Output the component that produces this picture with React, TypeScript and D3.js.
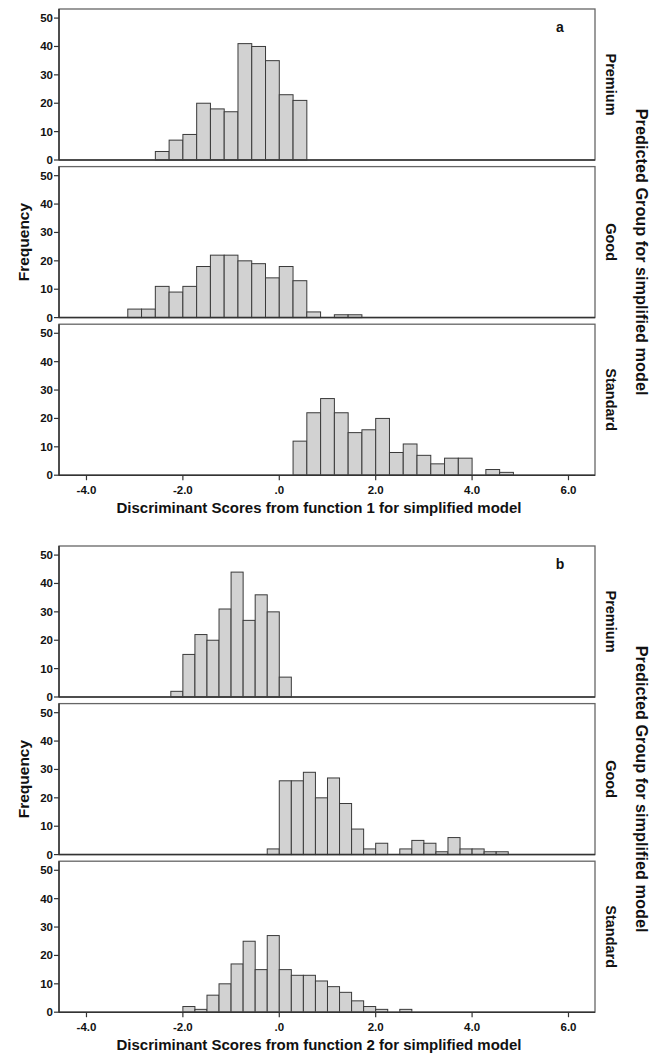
import React from "react";
import * as d3 from "d3";

const groups = ["Premium", "Good", "Standard"];
const yTicks = [0, 10, 20, 30, 40, 50];
const xTicks = [-4, -2, 0, 2, 4, 6];
const xTickLabels = ["-4.0", "-2.0", ".0", "2.0", "4.0", "6.0"];

// function 1 scores, bins of ~0.286
const binWidthA = 0.2857;
const premiumA = [3, 7, 9, 20, 18, 17, 41, 40, 35, 23, 21];
const goodA = [3, 3, 11, 9, 11, 18, 22, 22, 20, 19, 14, 18, 13, 2, 0, 1, 1];
const standardA = [12, 22, 27, 22, 15, 16, 20, 8, 11, 7, 4, 6, 6, 0, 2, 1];
const startsA = [-2.571, -3.143, 0.286];

// function 2 scores, bins of 0.25
const binWidthB = 0.25;
const premiumB = [2, 15, 22, 20, 31, 44, 27, 36, 30, 7];
const goodB = [2, 26, 26, 29, 20, 27, 18, 9, 2, 4, 0, 2, 5, 4, 1, 6, 2, 2, 1, 1];
const standardB = [2, 1, 6, 10, 17, 25, 15, 27, 15, 13, 13, 11, 9, 7, 4, 2, 1, 0, 1];
const startsB = [-2.25, -0.25, -2.0];

const W = 659;
const H = 1059;
const left = 59;
const right = 595;
const subH = 151;
const step = 157.6;
const font = "'Liberation Sans', Arial, sans-serif";
const ink = "#111";

const x = d3.scaleLinear().domain([-4.57, 6.55]).range([left, right]);

type Figure = {
  top: number;
  label: string;
  title: string;
  width: number;
  starts: number[];
  series: number[][];
};

const figures: Figure[] = [
  {
    top: 9,
    label: "a",
    title: "Discriminant Scores from function 1 for simplified model",
    width: binWidthA,
    starts: startsA,
    series: [premiumA, goodA, standardA],
  },
  {
    top: 546,
    label: "b",
    title: "Discriminant Scores from function 2 for simplified model",
    width: binWidthB,
    starts: startsB,
    series: [premiumB, goodB, standardB],
  },
];

const Histogram = ({ fig }: { fig: Figure }) => {
  const bottomAll = fig.top + 2 * step + subH;
  const midAll = (fig.top + bottomAll) / 2;
  return (
    <g>
      {fig.series.map((counts, gi) => {
        const t = fig.top + gi * step;
        const b = t + subH;
        const y = d3.scaleLinear().domain([0, 53.2]).range([b, t]);
        return (
          <g key={gi}>
            {counts.map((c, i) =>
              c > 0 ? (
                <rect
                  key={i}
                  x={x(fig.starts[gi] + i * fig.width)}
                  y={y(c)}
                  width={x(fig.starts[gi] + (i + 1) * fig.width) - x(fig.starts[gi] + i * fig.width)}
                  height={y(0) - y(c)}
                  fill="#d2d2d2"
                  stroke="#3a3a3a"
                  strokeWidth={1}
                />
              ) : null
            )}
            <rect x={left} y={t} width={right - left} height={subH} fill="none" stroke="#666" strokeWidth={1.3} />
            <line x1={left} x2={left} y1={t} y2={b} stroke="#333" strokeWidth={1.5} />
            <line x1={left} x2={right} y1={b} y2={b} stroke="#333" strokeWidth={1.5} />
            {yTicks.map((v) => (
              <g key={v}>
                <line x1={left - 5} x2={left} y1={y(v)} y2={y(v)} stroke="#333" strokeWidth={1.2} />
                <text
                  x={left - 6}
                  y={y(v)}
                  dy="0.35em"
                  textAnchor="end"
                  fontFamily={font}
                  fontWeight="bold"
                  fontSize={11.5}
                  fill={ink}
                >
                  {v}
                </text>
              </g>
            ))}
            <text
              transform={`translate(611,${(t + b) / 2}) rotate(90)`}
              textAnchor="middle"
              dy="0.35em"
              fontFamily={font}
              fontWeight="bold"
              fontSize={14.5}
              fill={ink}
            >
              {groups[gi]}
            </text>
          </g>
        );
      })}
      {xTicks.map((v, i) => (
        <g key={v}>
          <line x1={x(v)} x2={x(v)} y1={bottomAll} y2={bottomAll + 5} stroke="#333" strokeWidth={1.2} />
          <text
            x={x(v)}
            y={bottomAll + 15}
            dy="0.35em"
            textAnchor="middle"
            fontFamily={font}
            fontWeight="bold"
            fontSize={11.5}
            fill={ink}
          >
            {xTickLabels[i]}
          </text>
        </g>
      ))}
      <text
        x={319}
        y={bottomAll + 38}
        textAnchor="middle"
        fontFamily={font}
        fontWeight="bold"
        fontSize={15}
        fill={ink}
      >
        {fig.title}
      </text>
      <text
        transform={`translate(24,${midAll}) rotate(-90)`}
        textAnchor="middle"
        dy="0.35em"
        fontFamily={font}
        fontWeight="bold"
        fontSize={15.5}
        fill={ink}
      >
        Frequency
      </text>
      <text
        transform={`translate(641.5,${midAll + 10}) rotate(90)`}
        textAnchor="middle"
        dy="0.35em"
        fontFamily={font}
        fontWeight="bold"
        fontSize={16.3}
        fill={ink}
      >
        Predicted Group for simplified model
      </text>
      <text x={560} y={fig.top + 22.5} textAnchor="middle" fontFamily={font} fontWeight="bold" fontSize={14} fill={ink}>
        {fig.label}
      </text>
    </g>
  );
};

export default function App() {
  return (
    <svg width={W} height={H} style={{ position: "absolute", left: 0, top: 0, background: "#fff" }}>
      <rect width={W} height={H} fill="#fff" />
      {figures.map((f) => (
        <Histogram key={f.label} fig={f} />
      ))}
    </svg>
  );
}
